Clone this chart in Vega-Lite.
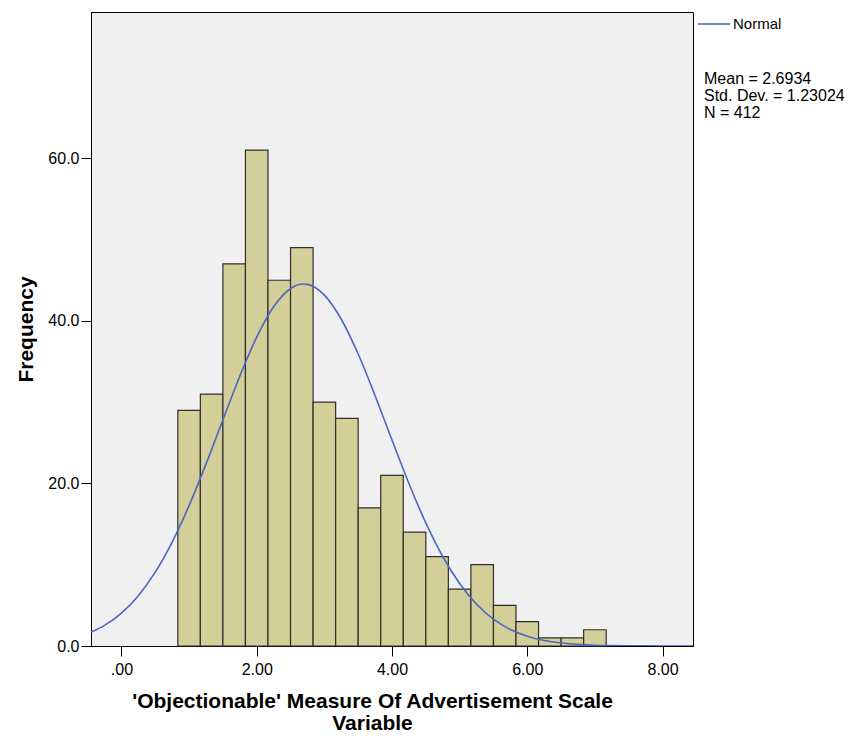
{
  "$schema": "https://vega.github.io/schema/vega-lite/v6.json",
  "width": 602,
  "height": 634,
  "autosize": {"type": "none"},
  "padding": {"left": 91, "top": 12, "right": 161, "bottom": 92},
  "background": "white",
  "config": {
    "font": "Liberation Sans",
    "view": {"fill": "#F0F0F0", "stroke": "black", "strokeWidth": 1},
    "axis": {
      "grid": false,
      "domainColor": "black",
      "tickColor": "black",
      "tickSize": 10,
      "labelColor": "black",
      "titleColor": "black",
      "labelFont": "Liberation Sans",
      "titleFont": "Liberation Sans",
      "labelFontSize": 16,
      "titleFontSize": 21,
      "titleFontWeight": "bold"
    }
  },
  "title": {
    "text": ["Mean = 2.6934", "Std. Dev. = 1.23024", "N = 412"],
    "frame": "group",
    "orient": "top",
    "anchor": "end",
    "align": "left",
    "baseline": "top",
    "dx": 11,
    "dy": 114,
    "offset": 0,
    "font": "Liberation Sans",
    "fontSize": 16,
    "fontWeight": "normal",
    "lineHeight": 17,
    "color": "black"
  },
  "datasets": {
    "bins": [
      {"bin_start": 0.8333, "bin_end": 1.1667, "count": 29},
      {"bin_start": 1.1667, "bin_end": 1.5, "count": 31},
      {"bin_start": 1.5, "bin_end": 1.8333, "count": 47},
      {"bin_start": 1.8333, "bin_end": 2.1667, "count": 61},
      {"bin_start": 2.1667, "bin_end": 2.5, "count": 45},
      {"bin_start": 2.5, "bin_end": 2.8333, "count": 49},
      {"bin_start": 2.8333, "bin_end": 3.1667, "count": 30},
      {"bin_start": 3.1667, "bin_end": 3.5, "count": 28},
      {"bin_start": 3.5, "bin_end": 3.8333, "count": 17},
      {"bin_start": 3.8333, "bin_end": 4.1667, "count": 21},
      {"bin_start": 4.1667, "bin_end": 4.5, "count": 14},
      {"bin_start": 4.5, "bin_end": 4.8333, "count": 11},
      {"bin_start": 4.8333, "bin_end": 5.1667, "count": 7},
      {"bin_start": 5.1667, "bin_end": 5.5, "count": 10},
      {"bin_start": 5.5, "bin_end": 5.8333, "count": 5},
      {"bin_start": 5.8333, "bin_end": 6.1667, "count": 3},
      {"bin_start": 6.1667, "bin_end": 6.5, "count": 1},
      {"bin_start": 6.5, "bin_end": 6.8333, "count": 1},
      {"bin_start": 6.8333, "bin_end": 7.1667, "count": 2}
    ],
    "normal": [
      {"x": -0.45, "freq": 1.703},
      {"x": -0.25, "freq": 2.545},
      {"x": 0.0, "freq": 4.054},
      {"x": 0.25, "freq": 6.196},
      {"x": 0.5, "freq": 9.087},
      {"x": 0.75, "freq": 12.789},
      {"x": 1.0, "freq": 17.268},
      {"x": 1.25, "freq": 22.376},
      {"x": 1.5, "freq": 27.82},
      {"x": 1.75, "freq": 33.19},
      {"x": 2.0, "freq": 37.994},
      {"x": 2.25, "freq": 41.733},
      {"x": 2.5, "freq": 43.987},
      {"x": 2.6934, "freq": 44.534},
      {"x": 2.75, "freq": 44.487},
      {"x": 3.0, "freq": 43.172},
      {"x": 3.25, "freq": 40.201},
      {"x": 3.5, "freq": 35.919},
      {"x": 3.75, "freq": 30.798},
      {"x": 4.0, "freq": 25.337},
      {"x": 4.25, "freq": 20.0},
      {"x": 4.5, "freq": 15.15},
      {"x": 4.75, "freq": 11.012},
      {"x": 5.0, "freq": 7.68},
      {"x": 5.25, "freq": 5.138},
      {"x": 5.5, "freq": 3.3},
      {"x": 5.75, "freq": 2.034},
      {"x": 6.0, "freq": 1.202},
      {"x": 6.25, "freq": 0.682},
      {"x": 6.5, "freq": 0.371},
      {"x": 6.75, "freq": 0.194},
      {"x": 7.0, "freq": 0.097},
      {"x": 7.25, "freq": 0.047},
      {"x": 7.5, "freq": 0.022},
      {"x": 7.75, "freq": 0.0095},
      {"x": 8.0, "freq": 0.0041},
      {"x": 8.25, "freq": 0.0017},
      {"x": 8.45, "freq": 0.0007}
    ]
  },
  "layer": [
    {
      "data": {"name": "bins"},
      "mark": {"type": "rect", "fill": "#D4CF98", "stroke": "#2e2e2e", "strokeWidth": 1.2},
      "encoding": {
        "x": {
          "field": "bin_start",
          "type": "quantitative",
          "scale": {"domain": [-0.45, 8.45], "nice": false, "zero": false},
          "axis": {
            "values": [0, 2, 4, 6, 8],
            "labelExpr": "datum.value == 0 ? '.00' : format(datum.value, '.2f')",
            "labelPadding": 5,
            "title": ["'Objectionable' Measure Of Advertisement Scale", "Variable"],
            "titleX": 281,
            "titleY": 44,
            "titleAlign": "center",
            "titleBaseline": "top",
            "titleLineHeight": 22
          }
        },
        "x2": {"field": "bin_end"},
        "y": {
          "field": "count",
          "type": "quantitative",
          "scale": {"domain": [0, 78], "nice": false},
          "axis": {
            "values": [0, 20, 40, 60],
            "format": ".1f",
            "labelPadding": 2,
            "title": "Frequency",
            "titlePadding": 11
          }
        }
      }
    },
    {
      "data": {"name": "normal"},
      "mark": {"type": "line", "interpolate": "monotone", "strokeWidth": 1.6, "clip": true},
      "encoding": {
        "x": {"field": "x", "type": "quantitative"},
        "y": {"field": "freq", "type": "quantitative"},
        "color": {
          "datum": "Normal",
          "type": "nominal",
          "scale": {"domain": ["Normal"], "range": ["#4B67C2"]},
          "legend": {
            "title": null,
            "orient": "none",
            "legendX": 606,
            "legendY": -5,
            "padding": 0,
            "symbolType": "stroke",
            "symbolSize": 1024,
            "symbolStrokeWidth": 1.6,
            "labelOffset": 2,
            "labelFont": "Liberation Sans",
            "labelFontSize": 15,
            "labelColor": "black"
          }
        }
      }
    }
  ]
}
